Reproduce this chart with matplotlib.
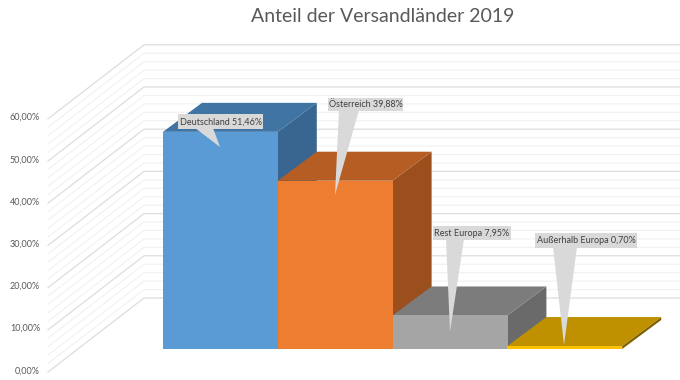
#!/usr/bin/env python3
import matplotlib
matplotlib.use('Agg')
import matplotlib.pyplot as plt
from matplotlib.patches import Polygon, Rectangle

plt.rcParams['font.family'] = ['Lato', 'DejaVu Sans']

# data
categories = ['Deutschland', 'Österreich', 'Rest Europa', 'Außerhalb Europa']
shares = [51.46, 39.88, 7.95, 0.70]
share_labels = ['51,46%', '39,88%', '7,95%', '0,70%']
major_ticks = [0, 10, 20, 30, 40, 50, 60]
major_tick_labels = ['0,00%', '10,00%', '20,00%', '30,00%', '40,00%', '50,00%', '60,00%']
minor_ticks = [2, 4, 6, 8, 12, 14, 16, 18, 22, 24, 26, 28, 32, 34, 36, 38,
               42, 44, 46, 48, 52, 54, 56, 58]

# colours: front, top, side
front_colors = ['#5B9BD5', '#ED7D31', '#A5A5A5', '#FFC000']
top_colors = ['#3F74A3', '#B55D22', '#7C7C7C', '#BF9000']
side_colors = ['#386690', '#9A4F1C', '#6A6A6A', '#7F6000']

# pixel layout of the picture
W, H = 680, 380
X0, Y0 = 163.0, 349.0       # front left corner of first bar
BAR_W = 114.8               # px per category
PX_PER_PCT = 4.22
DEPTH_X = 39 / BAR_W        # depth of a bar in x units
DEPTH_Y = 29 / PX_PER_PCT   # depth of a bar in y units
WALL_X = (144 - X0) / BAR_W
WALL_DY = (Y0 - 298) / PX_PER_PCT
FRONT_X = (48 - X0) / BAR_W
FRONT_DY = (Y0 - 372) / PX_PER_PCT

# label boxes in pixels: box x0, x1, y0, y1, tail base left, tail base right, tip x, tip y
label_boxes = [
    (178, 263, 114, 129, 195, 213, 220, 147),
    (328, 403, 98, 111, 339, 359, 335, 195),
    (433, 511, 226, 240, 446, 464, 450, 332),
    (535, 637, 233, 248, 553, 577, 564, 345),
]

fig = plt.figure(figsize=(W / 100, H / 100), dpi=100)
ax = fig.add_axes([0, 0, 1, 1])
ax.set_xlim((0 - X0) / BAR_W, (W - X0) / BAR_W)
ax.set_ylim((Y0 - H) / PX_PER_PCT, Y0 / PX_PER_PCT)
ax.axis('off')

# walls
for tick, color, lw in [(t, '#F1F1F1', 0.8) for t in minor_ticks] + [(t, '#DDDDDD', 0.9) for t in major_ticks]:
    ax.plot([FRONT_X, WALL_X, ax.get_xlim()[1]],
            [tick + FRONT_DY, tick + WALL_DY, tick + WALL_DY],
            color=color, lw=lw, zorder=1)

for tick, text in zip(major_ticks, major_tick_labels):
    ax.text((40 - X0) / BAR_W, tick + FRONT_DY + 0.3, text, ha='right', va='center',
            fontsize=6.5, color='#595959')

# bars, back to front from the left so that each hides the one behind
for i, value in enumerate(shares):
    ax.add_patch(Polygon([(i + 1, 0), (i + 1 + DEPTH_X, DEPTH_Y),
                          (i + 1 + DEPTH_X, value + DEPTH_Y), (i + 1, value)],
                         fc=side_colors[i], ec='none', zorder=2 + i * 0.1))
    ax.add_patch(Polygon([(i, value), (i + DEPTH_X, value + DEPTH_Y),
                          (i + 1 + DEPTH_X, value + DEPTH_Y), (i + 1, value)],
                         fc=top_colors[i], ec='none', zorder=2 + i * 0.1))
for i, value in enumerate(shares):
    ax.add_patch(Rectangle((i, 0), 1, value, fc=front_colors[i], ec='none', zorder=3))

# label callouts
px = plt.matplotlib.transforms.Affine2D().scale(1 / W, -1 / H).translate(0, 1) + fig.transFigure
for name, pct, box in zip(categories, share_labels, label_boxes):
    x0, x1, y0, y1, base_l, base_r, tip_x, tip_y = box
    fig.add_artist(Polygon([(base_l, y1 - 1), (tip_x, tip_y), (base_r, y1 - 1)],
                           fc='#D9D9D9', ec='none', transform=px, zorder=5))
    fig.add_artist(Rectangle((x0, y0), x1 - x0, y1 - y0, fc='#D9D9D9', ec='none',
                             transform=px, zorder=5))
    fig.text((x0 + x1) / 2 / W, 1 - ((y0 + y1) / 2 + 0.3) / H, f'{name} {pct}', ha='center', va='center',
             fontsize=6.5, color='#404040', zorder=6)

fig.text(382.5 / W, 1 - 16 / H, 'Anteil der Versandländer 2019', ha='center', va='center',
         fontsize=14, color='#595959')

fig.savefig('out.png', dpi=100)
plt.close(fig)
